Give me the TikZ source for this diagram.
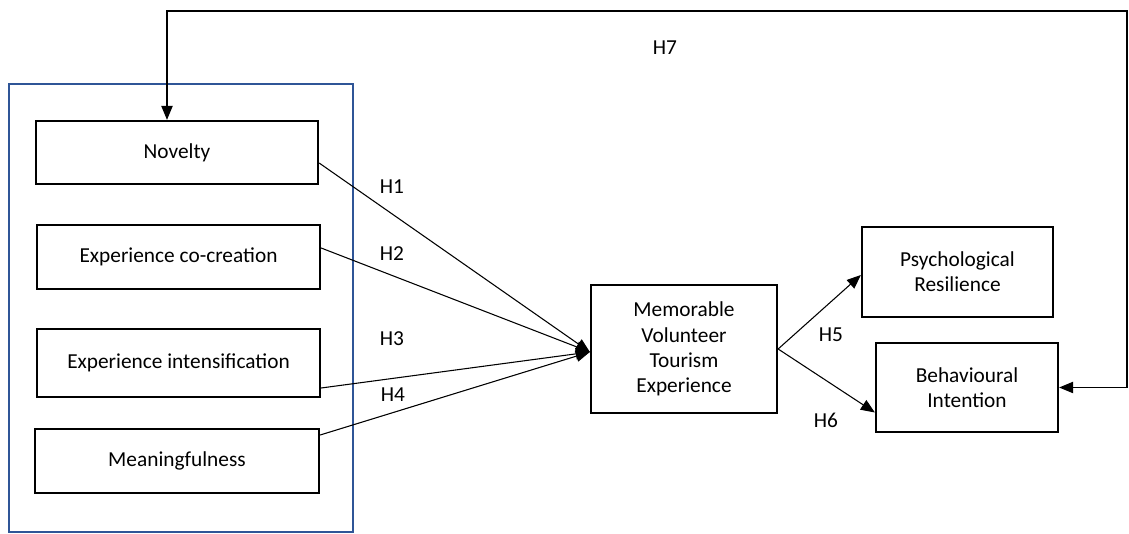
\documentclass[tikz,border=0pt]{standalone}
\usepackage{fontspec}
\setmainfont{Carlito}
\usetikzlibrary{arrows.meta,calc}
\definecolor{frameblue}{RGB}{47,85,151}
\begin{document}
\begin{tikzpicture}[x=0.75pt,y=-0.75pt,
  box/.style={draw=black,line width=1.7pt,fill=white,align=center,inner sep=2pt,
    font=\fontsize{16}{19}\selectfont},
  conn/.style={draw=black,line width=0.8pt,-{Triangle[length=10.5pt,width=8.5pt]}},
  hlab/.style={font=\fontsize{16}{19}\selectfont,inner sep=0pt}]
\useasboundingbox (0,0) rectangle (1129,534);
\draw[frameblue,line width=1.3pt] (9,84) rectangle (353,532);
\node[box,minimum width=211.5pt,minimum height=47.25pt] (nov) at (177,152.5) {Novelty};
\node[box,minimum width=212.25pt,minimum height=48pt] (cc) at (178.5,257) {Experience co-creation};
\node[box,minimum width=212.25pt,minimum height=51pt] (int) at (178.5,363) {Experience intensification};
\node[box,minimum width=213pt,minimum height=48pt] (mea) at (177,461) {Meaningfulness};
\node[box,minimum width=139.5pt,minimum height=96pt] (mem) at (684,349) {Memorable\\Volunteer\\Tourism\\Experience};
\node[box,minimum width=143.25pt,minimum height=67.5pt] (psy) at (957.5,272) {Psychological\\Resilience};
\node[box,minimum width=136.5pt,minimum height=66.75pt] (beh) at (967,387.5) {Behavioural\\Intention};
\coordinate (conv) at ($(mem.west)+(0,3)$);
\draw[conn] ($(nov.east)+(0,10.5)$) -- (conv);
\draw[conn] ($(cc.east)+(0,-9)$) -- (conv);
\draw[conn] ($(int.east)+(0,25)$) -- (conv);
\draw[conn] ($(mea.east)+(0,-26)$) -- (conv);
\draw[conn] (mem.east) -- ($(psy.west)+(0,3)$);
\draw[conn] (mem.east) -- ($(beh.west)+(0,25)$);
\coordinate (tl) at (167,11);
\coordinate (tr) at (1127,11);
\draw[conn,{Triangle[length=10.5pt,width=8.5pt]}-{Triangle[length=10.5pt,width=8.5pt]}] (nov.north -| tl) -- (tl) -- (tr) |- (beh.east);
\node[hlab] (h1) at (392,187) {H1};
\node[hlab] (h2) at (392,254) {H2};
\node[hlab] (h3) at (392,339) {H3};
\node[hlab] (h4) at (393,395) {H4};
\node[hlab] (h5) at (831,335) {H5};
\node[hlab] (h6) at (826,420) {H6};
\node[hlab] (h7) at (665,48) {H7};
\end{tikzpicture}
\end{document}
